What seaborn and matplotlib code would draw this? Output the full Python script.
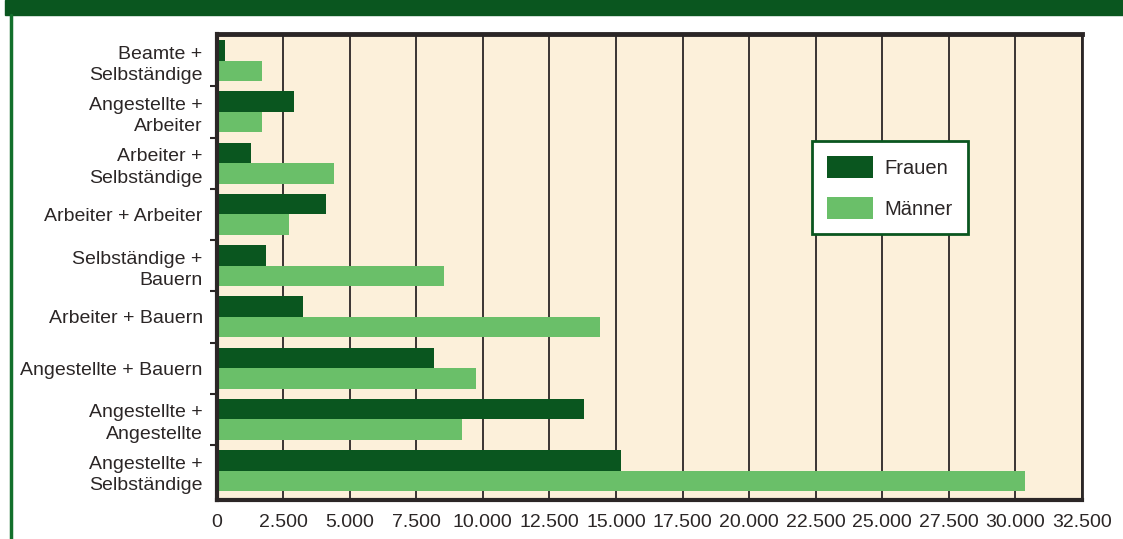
import matplotlib
matplotlib.use("Agg")
import matplotlib.pyplot as plt
from matplotlib.patches import Rectangle
from matplotlib.lines import Line2D
import pandas as pd
import seaborn as sns

# data
categories = ["Beamte +\nSelbständige", "Angestellte +\nArbeiter", "Arbeiter +\nSelbständige",
              "Arbeiter + Arbeiter", "Selbständige +\nBauern", "Arbeiter + Bauern",
              "Angestellte + Bauern", "Angestellte +\nAngestellte", "Angestellte +\nSelbständige"]
frauen = [300, 2900, 1300, 4100, 1850, 3250, 8150, 13800, 15200]
maenner = [1700, 1700, 4400, 2700, 8550, 14400, 9750, 9200, 30350]
xticks = list(range(0, 32501, 2500))

dark_green = "#0a561f"
light_green = "#6abf69"
cream = "#fcf0da"
grid_col = "#2b2626"

df = pd.DataFrame({
    "kat": categories * 2,
    "wert": frauen + maenner,
    "geschlecht": ["Frauen"] * len(categories) + ["Männer"] * len(categories),
})

sns.set_style("white")
plt.rcParams["font.family"] = ["Liberation Sans", "DejaVu Sans"]

fig = plt.figure(figsize=(11.23, 5.39), dpi=100)
ax = fig.add_axes([0.1929, 0.0724, 0.7705, 0.8645])
sns.barplot(data=df, y="kat", x="wert", hue="geschlecht", orient="h",
            palette=[dark_green, light_green], width=0.8, saturation=1,
            errorbar=None, linewidth=0, ax=ax)

ax.set_facecolor(cream)
ax.set_xlim(0, 32500)
ax.set_ylim(len(categories) - 0.5 + 0.07, -0.5 - 0.02)
ax.set_xticks(xticks)
ax.set_xticklabels([f"{v:,}".replace(",", ".") for v in xticks], fontsize=14, color="#2b2626")
ax.set_xlabel("")
ax.set_ylabel("")
ax.tick_params(axis="y", labelsize=14, labelcolor="#2b2626", length=0, pad=10)
for lab in ax.get_yticklabels():
    lab.set_linespacing(1.35)
ax.tick_params(axis="x", length=6, width=1.5, color=grid_col, pad=4)
# small ticks between categories on the left spine
ax.set_yticks([i + 0.5 for i in range(len(categories) - 1)], minor=True)
ax.tick_params(axis="y", which="minor", length=5, width=1.5, color=grid_col, left=True)

ax.set_axisbelow(True)
ax.grid(axis="x", color=grid_col, linewidth=1.3)
ax.grid(axis="y", visible=False)
for side, lw in [("top", 3.5), ("bottom", 3), ("left", 3), ("right", 2)]:
    ax.spines[side].set_visible(True)
    ax.spines[side].set_color(grid_col)
    ax.spines[side].set_linewidth(lw)

leg = ax.legend(loc="upper left", bbox_to_anchor=(0.688, 0.770), fontsize=14.5,
                frameon=True, fancybox=False, handlelength=2.3, handleheight=1.3,
                labelspacing=0.95, borderpad=0.75, handletextpad=0.55, borderaxespad=0)
leg.get_frame().set_edgecolor(dark_green)
leg.get_frame().set_linewidth(2)
leg.get_frame().set_facecolor("white")
leg.get_frame().set_alpha(1)
for t in leg.get_texts():
    t.set_color("#2b2626")

# green banner at top and green line at left edge
fig.patches.append(Rectangle((5 / 1123, 1 - 15 / 539), 1, 15 / 539,
                             transform=fig.transFigure, color=dark_green, zorder=0))
fig.lines.append(Line2D([11 / 1123, 11 / 1123], [0, 1 - 15 / 539],
                        transform=fig.transFigure, color="#12702c", linewidth=2.5))

fig.savefig("out.png", dpi=100)
